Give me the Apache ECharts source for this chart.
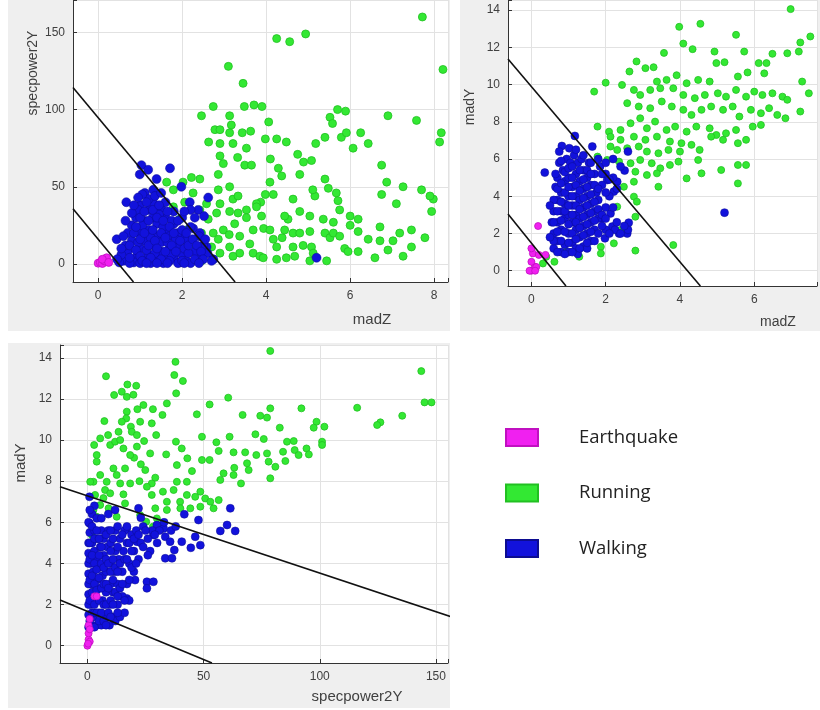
<!DOCTYPE html>
<html>
<head>
<meta charset="utf-8">
<script src="https://cdn.jsdelivr.net/npm/echarts@6/dist/echarts.min.js"></script>
<style>
html,body{margin:0;padding:0;background:#fff;}
#chart{width:820px;height:710px;}
</style>
</head>
<body>
<div id="chart"></div>
<script>
// ---------- Panel 1: madZ (x) vs specpower2Y (y) ----------
const p1Running = [
[7.72,160],[4.25,146],[4.56,144],[4.94,149],[3.10,128],[8.21,126],[3.45,117],
[2.74,102],[2.46,96],[3.13,96],[3.17,90],[3.48,102],[3.71,103],[3.90,102],[4.06,92],[5.70,100],[5.89,99],[5.52,95],[5.58,91],[6.90,96],[7.58,93],[8.17,85],[8.13,79],
[2.78,87],[2.90,87],[2.63,79],[2.90,78],[3.13,85],[3.21,78],[3.43,85],[3.63,86],[3.53,75],[3.32,69],[2.90,70],[2.98,65],[3.49,64],[3.65,64],[3.98,81],[4.25,81],[4.48,79],[4.10,68],[4.29,62],[4.37,57],[4.75,71],[4.89,66],[5.08,67],[5.18,78],[5.40,82],[5.79,82],[5.91,85],[6.07,75],[6.25,85],[6.43,78],[6.75,64],
[2.86,58],[2.42,55],[2.22,56],[2.02,53],[1.63,53],[1.79,48],[4.09,53],[4.80,58],[5.40,55],[5.48,49],[5.67,46],[5.16,44],[5.11,48],[3.98,45],[4.17,45],[3.87,40],[3.77,39],[3.21,42],[2.86,48],[2.90,39],[5.71,41],[6.75,45],[6.87,53],[7.10,39],[7.26,50],[7.70,48],[7.98,42],[7.94,34],
[2.58,39],[2.42,35],[2.26,46],[2.62,29],[2.82,33],[3.13,34],[3.33,33],[3.53,35],[3.25,26],[2.98,22],[2.74,20],[2.86,16],[3.12,19],[3.37,18],[3.69,22],[3.89,31],[3.94,23],[3.61,13],[3.37,7],[3.21,5],[3.69,7],[3.85,5],[4.09,22],[4.17,16],[4.38,17],[4.44,22],[4.64,20],[4.80,20],[5.04,21],[4.52,29],[4.44,31],[4.25,11],[4.48,4],[4.68,5],[5.08,11],[5.12,7],[5.40,20],[5.52,17],[5.60,20],[5.75,18],[5.87,10],[5.95,8],[6.19,8],[6.00,25],[6.19,21],[6.43,16],[6.71,24],[6.71,15],[6.90,9],[6.59,4],[7.18,20],[7.26,5],[7.46,11],[7.46,22],[7.78,17],[5.75,35],[6.00,31],[6.19,29],[5.04,31],[4.80,34],[4.64,42],[3.53,30],[3.77,37],[3.33,44],[3.13,50],[5.44,2],[5.04,2],[4.25,3],[3.93,4],[2.46,2],[2.74,3],[2.90,7],[3.13,11],[2.34,11],[2.10,22],[1.94,29],[1.79,37],[2.06,40],[2.46,20],[2.70,11],[7.90,44],[7.02,15],[4.64,11],[4.88,12],[5.60,27],[5.36,29]
];
const p1Walking = [
[1.03,64],[1.19,61],[0.99,58],[1.71,62],[1.39,55],[1.98,50],[1.11,46],[1.31,48],[2.18,40],[2.38,35],[2.62,43],[2.52,31],[2.26,23],[0.67,40],[0.44,16],[5.20,4],[2.74,3],[2.58,11],[2.42,20],[2.06,18],
[0.6,2],[0.7,8],[0.8,15],[0.8,25],[0.9,4],[0.9,30],[1.0,10],[1.0,20],[1.0,38],[1.1,2],[1.1,15],[1.1,28],[1.2,6],[1.2,22],[1.2,35],[1.3,12],[1.3,30],[1.3,40],[1.4,3],[1.4,18],[1.4,26],[1.5,8],[1.5,36],[1.5,14],[1.6,22],[1.6,3],[1.6,30],[1.7,10],[1.7,18],[1.8,4],[1.8,26],[1.8,34],[1.9,12],[1.9,20],[2.0,6],[2.0,30],[2.1,15],[2.1,2],[2.2,24],[2.3,8],[2.4,3],[2.5,12],[0.7,20],[0.95,14],[1.05,25],[1.25,17],[1.35,7],[1.45,32],[1.55,24],[1.65,14],[1.75,6],[1.85,16],[1.95,1],[2.05,10],[2.15,7],[0.65,12],[0.85,1],[1.15,9],[1.2,42],[1.05,45],[0.95,35],[1.6,40],[1.75,28],[2.2,35],[2.3,30],[2.4,18],[2.6,7],[2.7,2],[0.55,6],[1.25,0.5],[1.55,0.5],[1.9,0.5],[2.2,0.5],[0.75,0.5],[1.0,0.5],
[0.55,10],[0.6,18],[0.65,28],[0.75,4],[0.75,12],[0.8,33],[0.85,20],[0.9,9],[0.9,24],[1.0,5],[1.0,16],[1.0,30],[1.05,2],[1.1,20],[1.1,34],[1.15,40],[1.2,12],[1.2,28],[1.25,4],[1.3,22],[1.3,35],[1.35,15],[1.4,10],[1.4,30],[1.45,38],[1.5,20],[1.5,3],[1.55,28],[1.6,8],[1.6,17],[1.65,34],[1.7,24],[1.7,2],[1.75,12],[1.8,20],[1.85,8],[1.9,28],[1.95,15],[2.0,22],[2.0,2],[2.05,34],[2.1,20],[2.15,12],[2.25,16],[2.3,3],[2.35,12],[2.45,8],[2.5,3],[2.55,16],[0.5,1],[1.15,0.5],[1.4,0.5],[1.65,0.5],[2.05,0.5],[2.4,0.5],[0.45,3],[0.95,43],[1.35,44],[1.5,46],[0.85,38]
];
const p1Earthquake = [[0.0,0.5],[0.05,1],[0.1,0.3],[0.15,2],[0.2,4],[0.1,3],[0.25,1]];
const p1Boundary1 = [[-0.6,114.3],[3.26,-11.7]];
const p1Boundary2 = [[-0.6,35.7],[0.84,-11.7]];

// ---------- Panel 2: madZ (x) vs madY (y) ----------
const p2Running = [
[6.98,14.05],[3.98,13.1],[4.55,13.26],[3.57,11.7],[4.09,12.2],[4.34,11.9],[4.93,11.77],[7.24,12.26],[7.51,12.58],[7.20,11.77],[6.89,11.68],[6.49,11.65],[6.33,11.15],[6.12,11.15],[5.73,11.77],[5.51,12.67],[4.98,11.15],[5.2,11.2],[5.56,10.43],[5.82,10.65],[6.27,10.6],
[2.83,11.24],[3.07,10.88],[3.29,10.93],[2.64,10.7],[3.38,10.16],[3.64,10.25],[3.91,10.5],[4.18,10.07],[4.49,10.25],[4.8,10.16],[2.0,10.1],[1.69,9.62],[2.44,9.98],[2.76,9.71],[2.93,9.44],[3.2,9.71],[3.47,9.8],[3.82,9.8],[4.09,9.44],[4.4,9.27],[4.67,9.44],[5.02,9.53],[5.24,9.35],[5.51,9.71],[5.78,9.35],[6.0,9.62],[6.22,9.44],[6.49,9.53],[6.76,9.35],[6.89,9.18],[7.47,9.53],[7.29,10.16],
[2.58,9.0],[2.89,8.82],[3.2,8.73],[3.51,9.09],[3.78,8.82],[4.09,8.64],[4.31,8.37],[4.58,8.64],[4.84,8.82],[5.16,8.64],[5.42,8.82],[5.6,8.28],[5.91,8.64],[6.18,8.46],[6.4,8.73],[6.62,8.37],[6.84,8.19],[7.24,8.55],
[1.78,7.74],[2.09,7.47],[2.4,7.56],[2.67,7.92],[2.93,8.19],[3.11,7.65],[3.33,8.01],[3.64,7.56],[3.87,7.74],[4.18,7.47],[4.44,7.74],[4.8,7.65],[4.98,7.29],[5.24,7.38],[5.51,7.56],[5.96,7.74],[6.18,7.83],[5.78,7.03],[5.16,7.03],[4.84,7.2],[5.56,6.85],
[2.13,7.2],[2.4,7.03],[2.76,7.2],[3.07,7.03],[3.38,7.2],[3.73,6.94],[4.04,6.85],[4.31,6.76],[4.53,6.49],[2.13,6.67],[2.31,6.49],[2.58,6.58],[2.89,6.67],[3.11,6.4],[3.42,6.31],[3.69,6.49],[4.0,6.4],
[1.78,6.13],[2.04,5.95],[2.36,5.86],[2.67,5.77],[2.93,5.95],[3.24,5.77],[3.47,5.5],[3.73,5.68],[3.96,5.86],[4.49,5.95],[5.56,5.68],[5.78,5.68],[5.11,5.41],[4.58,5.23],[4.18,4.96],[3.38,5.23],[3.11,5.14],[2.8,5.32],[2.76,4.78],[3.42,4.51],[5.56,4.69],[2.49,4.51],[2.76,3.98],[2.84,3.71],[2.8,2.9],[2.31,3.44],
[3.82,1.38],[2.8,1.08],[1.87,1.29],[1.87,0.93],[1.29,0.75],[0.93,1.02],[0.62,0.48],[0.4,0.75],[0.31,0.39],[2.4,2.19],[2.58,2.37],[2.22,1.47]
];
const p2Walking = [
[1.17,7.24],[0.82,6.7],[1.02,6.58],[1.64,6.67],[0.36,5.27],[2.6,6.4],[2.51,5.38],[5.2,3.12],[2.62,2.58],[2.58,2.0],[2.36,2.0],[2.18,2.37],[1.98,1.74],[2.13,3.08],[1.91,2.81],[2.04,4.87],[2.22,4.25],[2.31,4.78],
[0.6,1.2],[0.6,2.0],[0.6,3.2],[0.65,4.5],[0.7,1.6],[0.7,2.6],[0.7,3.8],[0.7,5.0],[0.75,5.8],[0.8,1.0],[0.8,2.2],[0.8,3.2],[0.8,4.2],[0.85,5.4],[0.9,1.4],[0.9,2.8],[0.9,3.6],[0.9,4.8],[0.95,6.0],[1.0,1.0],[1.0,2.0],[1.0,3.0],[1.0,4.0],[1.0,5.0],[1.05,5.8],[1.1,1.5],[1.1,2.6],[1.1,3.5],[1.1,4.5],[1.15,6.2],[1.2,1.2],[1.2,2.2],[1.2,3.0],[1.2,4.0],[1.2,5.2],[1.25,5.8],[1.3,1.8],[1.3,2.8],[1.3,3.8],[1.3,4.8],[1.35,6.0],[1.4,1.3],[1.4,2.4],[1.4,3.4],[1.4,4.4],[1.4,5.4],[1.5,2.0],[1.5,3.0],[1.5,4.0],[1.5,5.0],[1.55,5.8],[1.6,1.6],[1.6,2.6],[1.6,3.6],[1.6,4.6],[1.7,2.2],[1.7,3.2],[1.7,5.2],[1.75,4.2],[1.8,2.0],[1.8,2.8],[1.8,3.8],[1.85,5.6],[1.9,4.6],[2.0,2.2],[2.0,3.4],[2.0,5.2],[2.1,4.0],[2.2,5.0],[2.25,2.2],[2.3,4.4],[2.4,2.0],[2.6,2.2],[0.55,2.6],[0.9,0.9],[1.25,0.9],[1.5,1.2],
[0.6,1.6],[0.6,2.6],[0.6,3.8],[0.65,5.2],[0.7,1.0],[0.7,2.1],[0.7,3.2],[0.7,4.4],[0.75,6.4],[0.8,1.6],[0.8,2.7],[0.8,3.7],[0.8,4.7],[0.8,5.9],[0.9,2.1],[0.9,3.2],[0.9,4.2],[0.9,5.3],[1.0,1.5],[1.0,2.5],[1.0,3.5],[1.0,4.5],[1.0,5.5],[1.1,1.0],[1.1,2.0],[1.1,3.0],[1.1,4.0],[1.1,5.0],[1.1,5.6],[1.2,1.7],[1.2,2.6],[1.2,3.5],[1.2,4.6],[1.3,1.2],[1.3,2.3],[1.3,3.3],[1.3,4.3],[1.3,5.4],[1.4,1.9],[1.4,2.9],[1.4,3.9],[1.4,4.9],[1.5,1.5],[1.5,2.5],[1.5,3.5],[1.5,4.5],[1.5,5.4],[1.6,2.1],[1.6,3.1],[1.6,4.1],[1.6,5.2],[1.7,1.6],[1.7,2.7],[1.7,3.7],[1.7,4.6],[1.8,3.3],[1.8,4.4],[1.9,2.4],[1.9,3.0],[1.9,5.2],[2.0,2.8],[2.0,4.2],[2.1,2.0],[2.1,4.9],[2.2,3.4],[2.3,2.6],[2.4,5.6],[2.5,2.4],[0.5,3.5],[0.5,1.8],[1.2,6.5],[1.4,6.2],[1.6,5.8],[1.8,6.0],[2.0,5.8],[2.2,6.0]
];
const p2Earthquake = [[0,0],[0.09,0.22],[0,0.48],[0.04,0.93],[0,1.2],[0.18,2.4],[0.13,0.2],[-0.05,0],[0.1,0.0],[0.2,0.85],[0.38,0.85]];
const p2Boundary1 = [[-0.63,11.37],[4.55,-0.82]];
const p2Boundary2 = [[-0.63,3.05],[0.93,-0.82]];

// ---------- Panel 3: specpower2Y (x) vs madY (y) ----------
const p3Running = [
[78.7,14.33],[37.9,13.8],[143.7,13.35],[8.0,13.1],[37.4,13.16],[41.1,12.87],[17.2,12.7],[21.0,12.64],[11.5,12.19],[14.8,12.35],[16.95,12.1],[19.8,12.2],[60.6,12.06],[52.6,11.73],[38.2,12.27],[145.1,11.83],[148.1,11.83],[116.1,11.57],[92.1,11.54],[78.7,11.54],[47.1,11.25],[34.2,11.78],[28.2,11.5],[32.3,11.22],[24.1,11.7],[21.5,11.5],[16.95,11.38],[66.8,11.22],[74.4,11.18],[77.3,11.09],[135.5,11.18],[126.1,10.86],[124.7,10.73],[98.6,10.89],[102,10.65],
[7.3,10.92],[16.7,11.05],[18.7,10.65],[22.7,10.89],[27.7,10.81],[13.4,10.4],[8.9,10.24],[5.5,10.08],[9.8,9.76],[2.9,9.76],[11.9,9.92],[15.5,9.59],[19.1,10.4],[21.3,10.24],[24.4,9.95],[29.6,10.24],[38.1,9.92],[40.6,9.59],[33.9,9.3],[38.5,8.78],[43.0,9.11],[49.3,10.16],[49.3,9.03],[55.5,9.89],[56.5,9.47],[61.2,10.16],[62.9,9.4],[63.2,8.65],[67.9,9.4],[68.7,8.87],[72.3,10.28],[75.9,10.05],[72.7,9.27],[69.4,8.54],[66.1,7.89],[77.3,9.35],[78.0,8.95],[78.7,8.14],[80.9,8.7],[82.8,10.6],[84.2,9.43],[85.9,9.92],[88.8,9.95],[85.2,8.98],[89.2,9.51],[90.9,9.27],[94.3,9.59],[95.3,9.3],[101,9.92],[101,9.76],[97.4,10.6],
[57.2,8.06],[58.6,8.38],[62.9,8.3],[52.6,9.03],[45.0,8.49],[42.8,7.97],[38.5,7.97],[37.1,7.57],[32.5,7.49],[34.2,7.0],[39.9,7.0],[42.8,7.33],[46.4,7.24],[48.6,7.49],[50.7,7.16],[52.9,7.0],[54.3,6.68],[56.5,7.08],[48.6,6.76],[44.3,6.68],[40.0,6.68],[34.2,6.6],[29.2,6.68],[27.7,7.33],[27.7,7.89],[29.2,8.17],[25.6,7.73],[22.4,8.0],[18.4,7.89],[15.5,7.36],[20.1,9.14],[23.0,8.82],[24.9,8.54],[27.0,9.35],
[4.0,8.95],[5.5,8.3],[2.6,7.97],[8.3,7.97],[11.2,8.62],[12.6,8.3],[14.1,7.89],[7.6,7.57],[3.3,7.33],[5.5,6.84],[9.1,6.68],[12.6,6.27],[16.2,6.92],[2.6,6.6],[4.0,6.27],[1.9,5.38],[22.7,6.35],[25.3,6.03],[28.2,5.79],[32.0,5.87],[29.9,6.19],[4.0,9.27],[1.2,7.97],[6.9,7.18],[9.8,7.41],[16.2,8.62],[18.4,9.27],[14.1,10.0],[21.3,9.68],[14.8,10.89]
];
const p3Walking = [
[0.9,7.24],[11.9,6.6],[22.0,6.68],[23.0,6.22],[41.7,6.39],[47.8,6.11],[61.5,6.68],[60.1,5.87],[57.2,5.58],[63.6,5.58],[46.4,5.3],[44.5,4.76],[48.6,4.89],[33.5,5.3],[35.6,5.06],[37.4,4.65],[40.6,5.06],[33.5,4.25],[36.4,4.25],[25.6,3.11],[28.4,3.11],[25.6,2.79],[20.5,3.19],[16.95,2.3],[21.3,5.06],[28.4,5.38],[29.9,5.87],[16.95,5.7],[32.8,5.7],[0.9,5.95],
[0.5,1.5],[0.5,2.5],[0.5,3.5],[0.5,4.5],[1,5.5],[1.5,1.0],[1.5,2.0],[1.5,3.0],[1.5,4.0],[2,5.0],[2.5,1.4],[2.5,2.6],[2.5,3.6],[3,4.6],[3,5.6],[4,1.0],[4,2.2],[4,3.2],[4,4.2],[4.5,5.2],[5,1.6],[5,2.8],[5,3.8],[5.5,4.8],[6,5.6],[6,1.0],[6.5,2.2],[6.5,3.4],[7,4.4],[7,5.2],[8,1.4],[8,2.6],[8,3.6],[8.5,4.8],[9,5.6],[9.5,1.0],[9.5,2.0],[10,3.0],[10,4.0],[10,5.0],[11,1.4],[11,2.6],[11.5,3.6],[12,4.6],[12,5.6],[13,2.0],[13,3.0],[13.5,4.2],[14,5.2],[15,2.4],[15,3.6],[15.5,4.6],[16,5.6],[17,3.0],[17,5.0],[18,4.0],[19,5.4],[20,4.6],[21,5.6],[22,4.2],[23,5.0],[24,5.8],[26,5.2],[27,4.6],[28,5.6],[30,5.0],[31,5.6],[12,1.2],[14,1.4],[16,1.6],[18,2.2],[18,3.2],[20,3.6],[0.5,0.9],[3,0.9],
[0.5,2.0],[0.5,3.0],[0.5,4.0],[0.5,5.0],[0.5,6.0],[1,1.2],[1,2.2],[1,3.2],[1,4.2],[1,5.0],[2,1.6],[2,2.6],[2,3.4],[2,4.4],[2,5.8],[3,1.6],[3,2.0],[3,3.0],[3,4.0],[3,5.2],[4,1.6],[4,2.7],[4,3.7],[4,5.6],[5,1.2],[5,2.2],[5,3.3],[5,4.4],[5,5.2],[6,1.6],[6,2.8],[6,4.0],[6,4.8],[7,1.2],[7,2.0],[7,3.0],[7,3.8],[8,1.0],[8,2.0],[8,3.0],[8,4.2],[8,5.4],[9,1.6],[9,2.8],[9,4.0],[10,1.4],[10,2.2],[10,3.6],[10,4.6],[10,5.6],[11,2.0],[11,3.2],[11,4.2],[11,5.2],[12,2.6],[12,3.8],[13,1.6],[13,2.4],[13,3.6],[13,4.8],[13,5.8],[14,2.8],[14,4.0],[15,3.0],[15,5.4],[16,2.2],[16,4.2],[17,4.2],[17,5.8],[18,5.0],[19,3.8],[19,4.6],[20,5.2],[21,4.0],[22,5.4],[24,4.8],[25,5.6],[26,4.4],[29,5.4],[33,6.0],[36,5.6],[38,5.8],[2,6.4],[4,6.2],[6,6.2],[9,6.4],[3,6.8],[1,6.6]
];
const p3Earthquake = [[0,0],[0.5,0.3],[1,0.2],[0.5,0.6],[0.5,1.0],[1,1.3],[1,0.8],[0.3,0.1],[3,2.4],[4,2.4]];
const p3Boundary1 = [[-11.8,7.73],[159.5,1.30]];
const p3Boundary2 = [[-11.8,2.22],[53.6,-0.84]];

const legendNames = ['Earthquake','Running','Walking'];
const colors = {Earthquake:'#f020f0', Running:'#33e833', Walking:'#1212dc'};
const borders = {Earthquake:'#c010c0', Running:'#22c022', Walking:'#0c0c90'};
const borderWidths = {Earthquake:0.8, Running:0.8, Walking:0.5};

// ---------- helpers ----------
const tickFont = 'Liberation Sans, Arial, sans-serif';
function fmt(step){ return v => (Math.abs(v/step - Math.round(v/step)) < 1e-6 ? String(Math.round(v)) : ''); }
function axis(gi, min, max, split, step){
  return {
    type:'value', gridIndex:gi, min:min, max:max, splitNumber:split,
    axisLine:{show:true, onZero:false, lineStyle:{color:'#333', width:1}},
    axisTick:{show:true, inside:true, length:4, lineStyle:{color:'#333'}},
    splitLine:{show:true, lineStyle:{color:'#e2e2e2', width:1}},
    axisLabel:{color:'#404040', fontSize:12, fontFamily:tickFont, margin:8, formatter:fmt(step)}
  };
}
function pts(name, data, gi, size){
  return {type:'scatter', name:name, xAxisIndex:gi, yAxisIndex:gi, data:data, symbolSize:size,
    itemStyle:{color:colors[name], borderColor:borders[name], borderWidth:borderWidths[name], opacity:1}, z:3};
}
function line(data, gi, clip){
  return {type:'line', name:'boundary', xAxisIndex:gi, yAxisIndex:gi, data:data, symbol:'none',
    clip:clip, lineStyle:{color:'#111', width:1.6}, z:5, silent:true};
}
function title(text, x, y, rot, size){
  return {type:'text', x:x, y:y, rotation:rot, z:10,
    style:{text:text, fill:'#404040', font: size+'px Liberation Sans, Arial, sans-serif', align:'center', verticalAlign:'middle'}};
}

const chart = echarts.init(document.getElementById('chart'), null, {renderer:'canvas'});
chart.setOption({
  animation:false,
  backgroundColor:'#ffffff',
  grid:[
    {left:73, top:0, width:375, height:282, show:true, backgroundColor:'#fff', borderWidth:0},
    {left:508, top:0, width:312, height:286, show:true, backgroundColor:'#fff', borderWidth:0},
    {left:60, top:345, width:388, height:318, show:true, backgroundColor:'#fff', borderWidth:0}
  ],
  xAxis:[ axis(0,-0.6,8.33,5,2), axis(1,-0.63,7.69,5,2), axis(2,-11.8,155.2,3,50) ],
  yAxis:[ axis(0,-11.7,171,4,50), axis(1,-0.82,14.54,7,2), axis(2,-0.84,14.62,7,2) ],
  legend:{
    orient:'vertical', left:505, top:428, padding:0, itemWidth:32, itemHeight:17, itemGap:36.5,
    icon:'rect', data:legendNames, selectedMode:false,
    textStyle:{fontSize:18.5, fontFamily:'Open Sans, sans-serif', color:'#222', padding:[0,0,0,36], lineHeight:18}
  },
  graphic:[
    {type:'rect', shape:{x:8, y:0, width:442, height:331}, style:{fill:'#efefef'}, z:-10, silent:true},
    {type:'rect', shape:{x:460, y:0, width:360, height:331}, style:{fill:'#efefef'}, z:-10, silent:true},
    {type:'rect', shape:{x:8, y:343, width:442, height:365}, style:{fill:'#efefef'}, z:-10, silent:true},
    title('specpower2Y', 33, 73, Math.PI/2, 14),
    title('madZ', 372, 320, 0, 15),
    title('madY', 470, 107, Math.PI/2, 14),
    title('madZ', 778, 322, 0, 14),
    title('madY', 21, 463, Math.PI/2, 15),
    title('specpower2Y', 357, 697, 0, 15)
  ],
  series:[
    pts('Running', p1Running, 0, 8), pts('Walking', p1Walking, 0, 9), pts('Earthquake', p1Earthquake, 0, 8),
    line(p1Boundary1, 0, true), line(p1Boundary2, 0, true),
    pts('Running', p2Running, 1, 7), pts('Walking', p2Walking, 1, 8), pts('Earthquake', p2Earthquake, 1, 7),
    line(p2Boundary1, 1, true), line(p2Boundary2, 1, true),
    pts('Running', p3Running, 2, 7), pts('Walking', p3Walking, 2, 8), pts('Earthquake', p3Earthquake, 2, 7),
    line(p3Boundary1, 2, false), line(p3Boundary2, 2, true)
  ]
});
</script>
</body>
</html>
